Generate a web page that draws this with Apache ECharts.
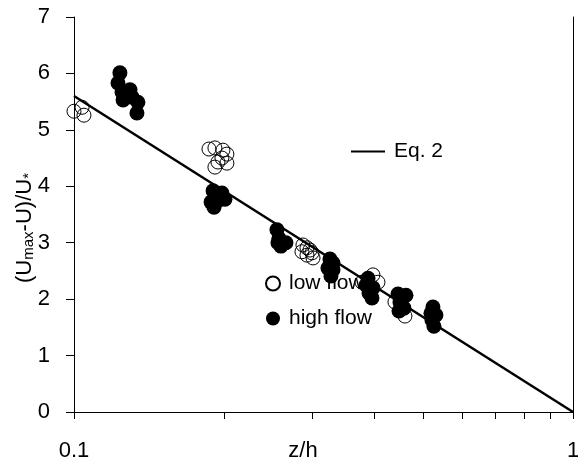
<!DOCTYPE html>
<html>
<head>
<meta charset="utf-8">
<script src="https://cdn.jsdelivr.net/npm/echarts@6/dist/echarts.min.js"></script>
<style>
html,body{margin:0;padding:0;background:#fff;}
#chart{width:578px;height:464px;}
</style>
</head>
<body>
<div id="chart"></div>
<script>
// z/h and (Umax-U)/U* values
const lowFlowZ = [0.1000, 0.1038, 0.1047, 0.1864, 0.1916, 0.1988, 0.2025, 0.1979, 0.1943, 0.1916, 0.2025,
  0.2876, 0.2930, 0.2971, 0.2863, 0.2930, 0.2999, 0.3013, 0.3973, 0.4066, 0.3777, 0.4397, 0.4605];
const lowFlowU = [5.33, 5.40, 5.26, 4.66, 4.68, 4.64, 4.57, 4.50, 4.43, 4.34, 4.41,
  2.96, 2.91, 2.87, 2.84, 2.78, 2.82, 2.73, 2.43, 2.30, 2.30, 1.95, 1.70];
const highFlowZ = [0.1236, 0.1225, 0.1248, 0.1254, 0.1295, 0.1307, 0.1343, 0.1337,
  0.1900, 0.1979, 0.1882, 0.1908, 0.2007, 0.1952,
  0.2551, 0.2574, 0.2598, 0.2659, 0.2563,
  0.3258, 0.3304, 0.3228, 0.3273, 0.3304,
  0.3883, 0.3848, 0.3973, 0.3901, 0.3955,
  0.4459, 0.4627, 0.4500, 0.4584, 0.4480,
  0.5240, 0.5313, 0.5192, 0.5216, 0.5264];
const highFlowU = [6.01, 5.83, 5.67, 5.53, 5.71, 5.58, 5.49, 5.30,
  3.92, 3.88, 3.72, 3.63, 3.77, 3.76,
  3.23, 3.08, 2.94, 3.00, 3.00,
  2.71, 2.64, 2.55, 2.41, 2.52,
  2.37, 2.25, 2.20, 2.11, 2.02,
  2.09, 2.07, 1.95, 1.84, 1.79,
  1.86, 1.72, 1.75, 1.63, 1.52];
const eqZ = [0.1, 1];
const eqU = [5.6, 0];
const xTickValues = [0.1, 0.2, 0.3, 0.4, 0.5, 0.6, 0.7, 0.8, 0.9, 1];
const xLabelValues = [0.1, 1];
const xLabelTexts = ['0.1', '1'];
const yTicks = [0, 1, 2, 3, 4, 5, 6, 7];

const zip = (a, b) => a.map((v, i) => [v, b[i]]);
const FONT = 'Liberation Sans';

const chart = echarts.init(document.getElementById('chart'), null, {renderer: 'canvas'});
chart.setOption({
  animation: false,
  backgroundColor: '#fff',
  textStyle: {fontFamily: FONT, color: '#000'},
  grid: {left: 74, right: 5, top: 17, bottom: 52, containLabel: false, outerBoundsMode: 'none'},
  xAxis: {
    type: 'log', logBase: 10, min: 0.1, max: 1,
    axisLine: {show: true, onZero: false, lineStyle: {color: '#000', width: 1}},
    axisTick: {show: true, inside: false, length: 7, lineStyle: {color: '#000'}, customValues: xTickValues},
    axisLabel: {
      fontFamily: FONT, fontSize: 22, color: '#000', margin: 28,
      customValues: xLabelValues,
      formatter: v => { const i = xLabelValues.findIndex(t => Math.abs(t - v) < 1e-6); return i >= 0 ? xLabelTexts[i] : ''; }
    },
    splitLine: {show: false}, minorTick: {show: false}
  },
  yAxis: [{
    type: 'value', min: yTicks[0], max: yTicks[yTicks.length - 1], interval: 1,
    axisLine: {show: true, lineStyle: {color: '#000', width: 1}},
    axisTick: {show: true, inside: false, length: 8, lineStyle: {color: '#000'}},
    axisLabel: {fontFamily: FONT, fontSize: 22, color: '#000', margin: 24},
    splitLine: {show: false}
  }, {
    type: 'value', position: 'right', min: 0, max: 7, interval: 1,
    axisLine: {show: true, lineStyle: {color: '#000', width: 1}},
    axisTick: {show: false}, axisLabel: {show: false}, splitLine: {show: false}
  }],
  graphic: [{
    type: 'text', x: 303, y: 451, silent: true,
    style: {text: 'z/h', font: '22px "Liberation Sans"', fill: '#000', align: 'center', verticalAlign: 'middle'}
  }, {
    type: 'text', x: 25, y: 228, rotation: Math.PI / 2, silent: true,
    style: {
      text: '(U{sub|max}-U)/U{sub|*}', fontFamily: FONT, fontSize: 22, fill: '#000',
      align: 'center', verticalAlign: 'middle',
      rich: {sub: {fontFamily: FONT, fontSize: 15, fill: '#000', verticalAlign: 'bottom', padding: [8, 0, 0, 0]}}
    }
  }],
  legend: [{
    data: ['low flow', 'high flow'],
    left: 265, top: 273, orient: 'vertical', padding: 0,
    itemWidth: 14, itemHeight: 14, itemGap: 14, icon: 'circle',
    textStyle: {fontFamily: FONT, fontSize: 21, color: '#000', padding: [0, 0, 0, 4]}
  }, {
    data: ['Eq. 2'],
    left: 351, top: 141, orient: 'horizontal', padding: 0,
    itemWidth: 34, itemHeight: 2, icon: 'rect',
    textStyle: {fontFamily: FONT, fontSize: 21, color: '#000', padding: [0, 0, 0, 4]}
  }],
  series: [{
    name: 'Eq. 2', type: 'line', data: zip(eqZ, eqU),
    showSymbol: false, symbol: 'none', color: '#000',
    lineStyle: {color: '#000', width: 2.5}, z: 3
  }, {
    name: 'low flow', type: 'scatter', data: zip(lowFlowZ, lowFlowU), clip: false,
    symbol: 'circle', symbolSize: 14,
    itemStyle: {color: 'rgba(255,255,255,0)', borderColor: '#000', borderWidth: 1, opacity: 1}, z: 2
  }, {
    name: 'high flow', type: 'scatter', data: zip(highFlowZ, highFlowU), clip: false,
    symbol: 'circle', symbolSize: 15, color: '#000',
    itemStyle: {color: '#000', borderColor: '#000', borderWidth: 0, opacity: 1}, z: 4
  }]
});
</script>
</body>
</html>
